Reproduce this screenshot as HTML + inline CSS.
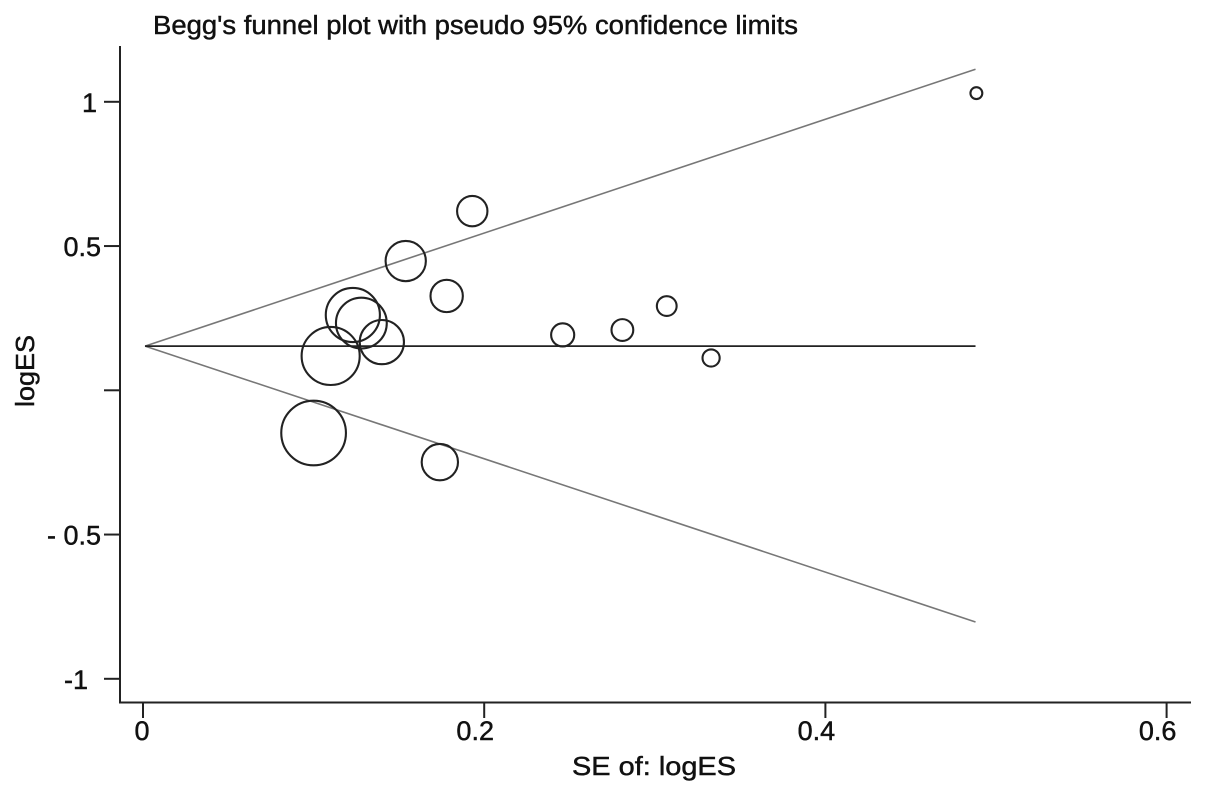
<!DOCTYPE html>
<html lang="en">
<head>
<meta charset="utf-8">
<title>Begg's funnel plot</title>
<style>
html,body{margin:0;padding:0;background:#fff;width:1205px;height:794px;overflow:hidden}
svg{display:block}
text{font-family:"Liberation Sans",Arial,sans-serif;fill:#111;stroke:#111;stroke-width:0.45px}
</style>
</head>
<body>
<svg id="chart" xmlns="http://www.w3.org/2000/svg" width="1205" height="794" viewBox="0 0 1205 794">
  <rect x="0" y="0" width="1205" height="794" fill="#fff"/>
  <text x="153" y="34" font-size="25.5" textLength="645" lengthAdjust="spacingAndGlyphs">Begg's funnel plot with pseudo 95% confidence limits</text>
  <text x="572" y="775" font-size="26" textLength="164" lengthAdjust="spacingAndGlyphs">SE of: logES</text>
  <text transform="translate(34,407) rotate(-90)" font-size="26" textLength="72" lengthAdjust="spacingAndGlyphs">logES</text>
  <g id="axes"></g>
  <g id="funnel"></g>
  <g id="points"></g>
</svg>
<script>
// Chart data
const xTicks = [0, 0.2, 0.4, 0.6];
const xTickLabels = ["0", "0.2", "0.4", "0.6"];
const yTicks = [1, 0.5, 0, -0.5, -1];
const yTickLabels = ["1", "0.5", "", "- 0.5", "-1"];
const studySE = [0.4885, 0.193, 0.154, 0.178, 0.123, 0.128, 0.140, 0.110, 0.100, 0.174, 0.246, 0.281, 0.307, 0.333];
const studyLogES = [1.030, 0.621, 0.448, 0.327, 0.261, 0.233, 0.167, 0.119, -0.148, -0.249, 0.192, 0.209, 0.292, 0.112];
const studyWeight = [1.8, 4.6, 6.1, 4.9, 8.2, 7.7, 6.7, 8.8, 9.8, 5.5, 3.5, 3.3, 3.0, 2.6];
const funnelSE = [0.0012, 0.488];
const funnelCentre = [0.153, 0.153];
const funnelUpper = [0.153, 1.113];
const funnelLower = [0.153, -0.803];

// Axis functions
const xScale = v => 143 + 1706 * v;
const yScale = v => 390.3 - 288.5 * v;
const radius = w => 3.3 * w;

const NS = "http://www.w3.org/2000/svg";
function make(tag, attrs, parent) {
  const el = document.createElementNS(NS, tag);
  for (const k in attrs) el.setAttribute(k, attrs[k]);
  parent.appendChild(el);
  return el;
}
const axes = document.getElementById("axes");
const funnel = document.getElementById("funnel");
const points = document.getElementById("points");
const axisStyle = {stroke: "#222", "stroke-width": 2};

const yAxis = make("line", {x1: 120, y1: 46, x2: 120, y2: 703, ...axisStyle}, axes);


const xAxis = make("line", {x1: 119, y1: 702.5, x2: 1191, y2: 702.5, ...axisStyle}, axes);



xTicks.forEach((t, i) => {
  const px = xScale(t);
  const tick = make("line", {x1: px, y1: 703, x2: px, y2: 718, ...axisStyle}, axes);
  
  
  const label = make("text", {x: i === 0 ? px - 1 : px - 9, y: 740, "font-size": 27, "text-anchor": "middle"}, axes);
  
  
  label.textContent = xTickLabels[i];
});

yTicks.forEach((t, i) => {
  const py = yScale(t);
  const tick = make("line", {x1: 104, y1: py, x2: 120, y2: py, ...axisStyle}, axes);
  
  
  if (yTickLabels[i]) {
    const isOne = Math.abs(t) === 1;
    const label = make("text", {x: isOne ? (t < 0 ? 88 : 97) : 101, y: py + 10, "font-size": 27, "text-anchor": "end"}, axes);
    
    
    label.textContent = yTickLabels[i];
  }
});

function funnelLine(values, color, width) {
  const d = funnelSE.map((s, i) => xScale(s) + "," + yScale(values[i])).join(" ");
  return make("polyline", {points: d, fill: "none", stroke: color, "stroke-width": width}, funnel);
}
const upperLine = funnelLine(funnelUpper, "#777", 1.6);


const lowerLine = funnelLine(funnelLower, "#777", 1.6);


const centreLine = funnelLine(funnelCentre, "#222", 1.8);



studySE.forEach((s, i) => {
  const c = make("circle", {cx: xScale(s), cy: yScale(studyLogES[i]), r: radius(studyWeight[i]), fill: "none", stroke: "#222", "stroke-width": 2.1}, points);
  
  
});
</script>
</body>
</html>
